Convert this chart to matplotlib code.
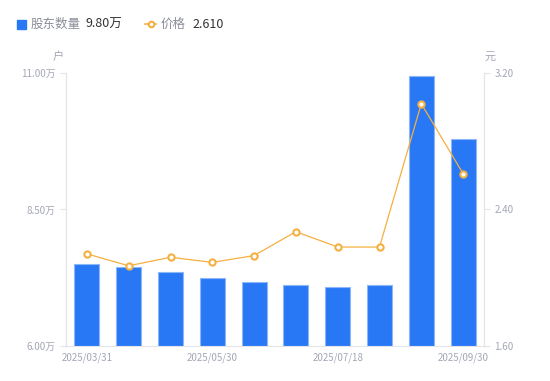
import matplotlib
matplotlib.use("Agg")
import matplotlib.pyplot as plt
import numpy as np

plt.rcParams['font.family'] = ['Noto Sans CJK SC', 'DejaVu Sans']

dates = ["2025/03/31", "2025/04/18", "2025/05/09", "2025/05/30", "2025/06/20",
         "2025/06/30", "2025/07/18", "2025/08/08", "2025/08/29", "2025/09/30"]
holders = [7.50, 7.45, 7.36, 7.25, 7.18, 7.12, 7.08, 7.11, 10.95, 9.80]  # 万户
price = [2.14, 2.07, 2.12, 2.09, 2.13, 2.27, 2.18, 2.18, 3.02, 2.61]
left_ticks = [6.00, 8.50, 11.00]
right_ticks = [1.60, 2.40, 3.20]

blue = "#2878F5"
orange = "#F5B041"
gray = "#A3A7B5"
axis_c = "#E3E5EA"

fig = plt.figure(figsize=(5.5, 3.81), dpi=100)
ax = fig.add_axes([0.12, 0.0919, 0.76, 0.7165])
x = np.arange(len(dates))
ax.bar(x, holders, width=0.6, color=blue, edgecolor="#8DB6F8", linewidth=0.8, zorder=2)
ax.set_xlim(-0.5, len(dates) - 0.5)
ax.set_ylim(left_ticks[0], left_ticks[-1])
ax.set_yticks(left_ticks)
ax.set_yticklabels([f"{v:.2f}万" for v in left_ticks])
ax.set_xticks(x[::3])
ax.set_xticklabels(dates[::3])

ax2 = ax.twinx()
ax2.plot(x, price, color=orange, linewidth=0.9, marker="o", markersize=4.5,
         markerfacecolor="white", markeredgecolor=orange, markeredgewidth=1.5, zorder=3)
ax2.set_ylim(right_ticks[0], right_ticks[-1])
ax2.set_yticks(right_ticks)
ax2.set_yticklabels([f"{v:.2f}" for v in right_ticks])

for a in (ax, ax2):
    for s in a.spines.values():
        s.set_color(axis_c)
    a.spines['top'].set_visible(False)
    a.tick_params(colors=axis_c, labelcolor=gray, labelsize=7, length=4, width=0.8)
ax.tick_params(axis='x', length=0, pad=5)
ax2.spines['bottom'].set_visible(False)

fig.text(58 / 550, 1 - 57 / 381, "户", color=gray, fontsize=8, ha="center", va="center")
fig.text(490 / 550, 1 - 57 / 381, "元", color=gray, fontsize=8, ha="center", va="center")

# legend
ly = 1 - 24 / 381
fig.patches.append(plt.Rectangle((17 / 550, 1 - 29 / 381), 9 / 550, 9 / 381,
                                 transform=fig.transFigure, color=blue, figure=fig))
fig.text(31 / 550, ly, "股东数量", color="#8A8E99", fontsize=9, va="center")
fig.text(85 / 550, ly, f"{holders[-1]:.2f}万", color="#333333", fontsize=9, va="center")
fig.lines.append(plt.Line2D([145 / 550, 150.5 / 550, 156 / 550], [ly, ly, ly],
                            transform=fig.transFigure, color=orange, linewidth=1.2,
                            marker="o", markersize=4, markevery=[1],
                            markerfacecolor="white", markeredgecolor=orange,
                            markeredgewidth=1.5, figure=fig))
fig.text(161 / 550, ly, "价格", color="#8A8E99", fontsize=9, va="center")
fig.text(192 / 550, ly, f"{price[-1]:.3f}", color="#333333", fontsize=9, va="center")

fig.savefig("out.png", dpi=100)
